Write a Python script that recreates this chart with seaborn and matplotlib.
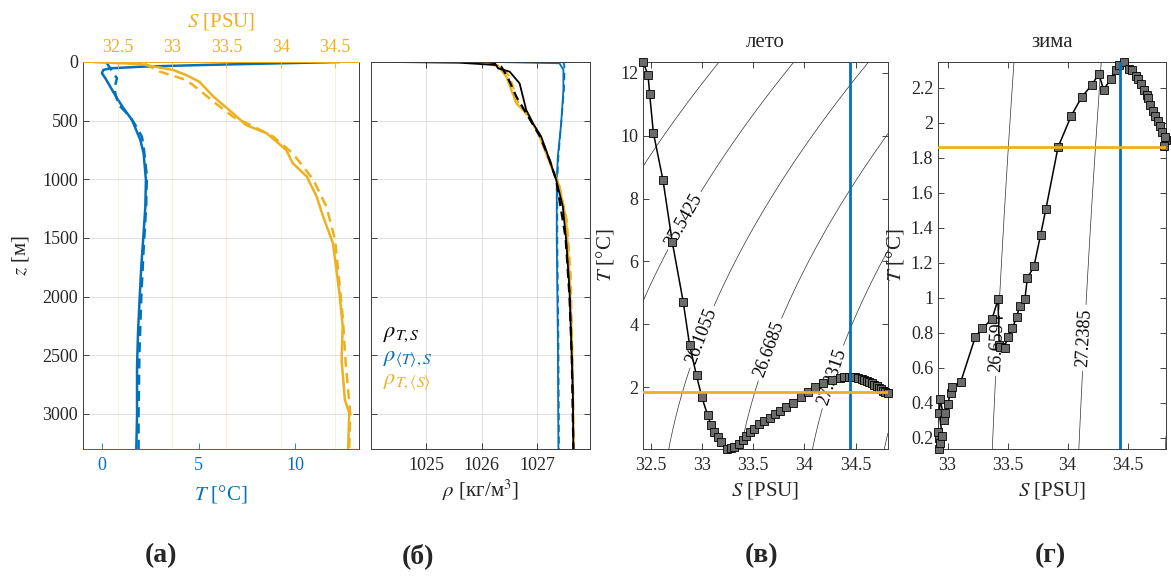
import numpy as np
import matplotlib
matplotlib.use('Agg')
import matplotlib.pyplot as plt
import seaborn as sns
from matplotlib.ticker import FuncFormatter

# ---------------- data ----------------
# (a) temperature profiles
z_T_sum = [0, 26, 40, 54, 68, 96, 139, 210, 309, 395, 494, 665, 778, 1005, 1233, 1457, 1744, 2028, 2310, 2596, 3022, 3300]
T_sum_prof = [12.3, 5.1, 2.0, 0.4, 0.05, -0.02, 0.16, 0.41, 0.76, 1.1, 1.54, 1.97, 2.14, 2.26, 2.23, 2.14, 2.02, 1.93, 1.85, 1.80, 1.80, 1.76]
z_T_win = [0, 11, 96, 139, 196, 267, 366, 423, 494, 537, 636, 721, 977, 1233, 1600, 2000, 2500, 3000, 3300]
T_win_prof = [0.2, 0.24, 0.58, 0.76, 0.67, 0.67, 0.85, 1.19, 1.54, 1.71, 2.05, 2.14, 2.31, 2.27, 2.14, 2.02, 1.92, 1.88, 1.88]
# (a) salinity profiles
z_S_sum = [0, 17, 26, 68, 111, 168, 295, 437, 537, 608, 750, 863, 977, 1148, 1318, 1545, 1971, 2255, 2539, 2880, 2993, 3300]
S_sum_prof = [32.27, 32.70, 32.76, 33.01, 33.13, 33.25, 33.38, 33.56, 33.68, 33.87, 34.05, 34.11, 34.24, 34.33, 34.39, 34.48, 34.54, 34.57, 34.56, 34.59, 34.63, 34.62]
z_S_win = [0, 15, 40, 83, 153, 238, 338, 466, 551, 636, 778, 1005, 1233, 1517, 2170, 2596, 3000, 3300]
S_win_prof = [32.3, 32.75, 32.80, 32.89, 33.13, 33.25, 33.38, 33.56, 33.75, 33.93, 34.11, 34.30, 34.42, 34.50, 34.57, 34.60, 34.64, 34.63]

# (b) density profiles
z_rho = [0, 6, 26, 54, 82, 182, 295, 409, 522, 636, 835, 1005, 1233, 1517, 1943, 2369, 2795, 3300]
rho_TS = [1024.39, 1025.59, 1026.26, 1026.29, 1026.50, 1026.68, 1026.74, 1026.80, 1026.92, 1027.07, 1027.22, 1027.34, 1027.46, 1027.52, 1027.58, 1027.61, 1027.64, 1027.65]
z_rho_d = [0, 10, 40, 125, 295, 437, 636, 835, 1005, 1500, 2000, 2500, 3300]
rho_TS_d = [1026.1, 1026.25, 1026.35, 1026.46, 1026.62, 1026.80, 1027.05, 1027.22, 1027.34, 1027.51, 1027.58, 1027.62, 1027.65]
z_rho_y = [0, 10, 40, 125, 352, 466, 636, 892, 1062, 1346, 1800, 2652, 3300]
rho_T_mS = [1025.77, 1026.1, 1026.3, 1026.44, 1026.62, 1026.86, 1027.04, 1027.25, 1027.40, 1027.52, 1027.58, 1027.64, 1027.65]
rho_T_mS_d = [1025.9, 1026.15, 1026.35, 1026.5, 1026.66, 1026.84, 1027.06, 1027.27, 1027.40, 1027.53, 1027.60, 1027.64, 1027.66]
z_rho_b = [0, 11, 68, 238, 522, 806, 1005, 1517, 2369, 3300]
rho_mT_S = [1026.26, 1027.40, 1027.47, 1027.47, 1027.43, 1027.37, 1027.35, 1027.35, 1027.37, 1027.38]
rho_mT_S_d = [1027.45, 1027.48, 1027.49, 1027.48, 1027.43, 1027.38, 1027.36, 1027.36, 1027.38, 1027.39]

# (в) summer T-S
S_sum = [32.425, 32.474, 32.49, 32.526, 32.62, 32.71, 32.817, 32.88, 32.947, 33.0, 33.055, 33.088, 33.12,
         33.153, 33.186, 33.24, 33.28, 33.317, 33.36, 33.40, 33.43, 33.464, 33.51, 33.56, 33.61, 33.66, 33.71,
         33.76, 33.82, 33.89, 33.97, 34.035, 34.10, 34.18, 34.265, 34.35, 34.39, 34.43, 34.46, 34.49, 34.52,
         34.56, 34.58, 34.61, 34.63, 34.66, 34.68, 34.71, 34.73, 34.75, 34.77, 34.79, 34.815]
T_sum = [12.35, 11.94, 11.33, 10.10, 8.59, 6.63, 4.72, 3.33, 2.37, 1.67, 1.11, 0.79, 0.58,
         0.42, 0.26, 0.03, 0.05, 0.10, 0.20, 0.31, 0.45, 0.58, 0.68, 0.82, 0.93, 1.03, 1.14,
         1.25, 1.37, 1.48, 1.69, 1.85, 1.99, 2.12, 2.22, 2.30, 2.32, 2.33, 2.32, 2.31, 2.29,
         2.25, 2.23, 2.19, 2.16, 2.12, 2.08, 2.03, 1.98, 1.93, 1.89, 1.85, 1.82]
# (г) winter T-S
S_win = [32.93, 32.92, 32.93, 32.94, 32.956, 32.93, 32.94, 32.97, 32.98, 33.0, 33.025, 33.04, 33.11, 33.23,
         33.29, 33.37, 33.42, 33.43, 33.44, 33.475, 33.50, 33.54, 33.575, 33.60, 33.644, 33.664, 33.72,
         33.775, 33.82, 33.92, 34.03, 34.12, 34.20, 34.26, 34.30, 34.36, 34.40, 34.43, 34.47, 34.51, 34.54,
         34.57, 34.59, 34.61, 34.64, 34.66, 34.67, 34.69, 34.71, 34.725, 34.75, 34.77, 34.79, 34.82, 34.81, 34.80]
T_win = [0.20, 0.23, 0.135, 0.17, 0.207, 0.34, 0.42, 0.30, 0.34, 0.39, 0.458, 0.487, 0.52, 0.774,
         0.825, 0.878, 0.99, 0.73, 0.72, 0.715, 0.777, 0.825, 0.89, 0.95, 0.99, 1.11, 1.18,
         1.36, 1.51, 1.86, 2.04, 2.15, 2.215, 2.28, 2.19, 2.25, 2.30, 2.33, 2.348, 2.31, 2.30,
         2.27, 2.25, 2.22, 2.19, 2.16, 2.14, 2.10, 2.07, 2.04, 2.01, 1.98, 1.945, 1.90, 1.917, 1.866]

# reference (mean) lines in T-S panels
S_mean = [34.44, 34.44]
T_mean = [1.86, 1.86]

# isopycnal levels: unlabeled and labeled
lev_sum = [24.9795, 27.7945]
lab_sum = [25.5425, 26.1055, 26.6685, 27.2315]
lab_pos_sum = [(32.83, 7.3), (33.0, 3.6), (33.66, 3.2), (34.30, 2.3)]
lev_win = [26.0803, 27.8176]
lab_win = [26.6594, 27.2385]
lab_pos_win = [(33.456, 0.74), (34.16, 0.77)]

# ticks
z_ticks = [0, 500, 1000, 1500, 2000, 2500, 3000]
T_ticks_a = [0, 5, 10]
S_ticks_a = [32.5, 33, 33.5, 34, 34.5]
rho_ticks = [1025, 1026, 1027]
S_ticks_ts = [32.5, 33, 33.5, 34, 34.5]
T_ticks_sum = [2, 4, 6, 8, 10, 12]
T_ticks_win = [0.2, 0.4, 0.6, 0.8, 1.0, 1.2, 1.4, 1.6, 1.8, 2.0, 2.2]

# ---------------- style ----------------
sns.set_style('ticks')
plt.rcParams['font.family'] = ['Liberation Serif', 'DejaVu Serif']
plt.rcParams['mathtext.fontset'] = 'stix'
BLUE = '#0072BD'
YEL = '#EDB120'
SPINE = '#3c3c3c'
TICK_FS = 13
LAB_FS = 15
gfmt = FuncFormatter(lambda v, p: f'{v:g}')


def sigma_eos(S, T):
    """UNESCO EOS-80 one-atmosphere density anomaly (S treated as absolute salinity)."""
    S = S * 35.0 / 35.16504
    rw = (999.842594 + 6.793952e-2 * T - 9.095290e-3 * T**2 + 1.001685e-4 * T**3
          - 1.120083e-6 * T**4 + 6.536332e-9 * T**5)
    A = 8.24493e-1 - 4.0899e-3 * T + 7.6438e-5 * T**2 - 8.2467e-7 * T**3 + 5.3875e-9 * T**4
    B = -5.72466e-3 + 1.0227e-4 * T - 1.6546e-6 * T**2
    C = 4.8314e-4
    return rw + A * S + B * S**1.5 + C * S**2 - 1000.0


def box(ax):
    for sp in ax.spines.values():
        sp.set_linewidth(0.7)
        sp.set_color(SPINE)
        sp.set_visible(True)
    ax.tick_params(direction='in', length=4, width=0.6, labelsize=TICK_FS,
                   top=True, right=True, colors='#262626')
    ax.tick_params(axis='x', pad=6)


fig = plt.figure(figsize=(11.71, 5.83), dpi=100)
W, H = 1171, 583


def rect(l, r, t, b):
    return [l / W, 1 - b / H, (r - l) / W, (b - t) / H]


# ---------------- (a) ----------------
axa = fig.add_axes(rect(83, 359, 62, 449))
axs = axa.twiny()
sns.lineplot(x=T_sum_prof, y=z_T_sum, sort=False, estimator=None, ax=axa, color=BLUE, lw=1.8)
sns.lineplot(x=T_win_prof, y=z_T_win, sort=False, estimator=None, ax=axa, color=BLUE, lw=1.8,
             linestyle=(0, (4, 2.5)))
sns.lineplot(x=S_sum_prof, y=z_S_sum, sort=False, estimator=None, ax=axs, color=YEL, lw=1.8)
sns.lineplot(x=S_win_prof, y=z_S_win, sort=False, estimator=None, ax=axs, color=YEL, lw=1.8,
             linestyle=(0, (4, 2.5)))
axa.set_xlim(-1.0, 13.3)
axs.set_xlim(32.18, 34.72)
axa.set_ylim(3300, 0)
axa.set_yticks(z_ticks)
axa.set_xticks(T_ticks_a)
axs.set_xticks(S_ticks_a)
axs.xaxis.set_major_formatter(gfmt)
axa.yaxis.grid(True, color='#dedede', lw=0.7)
axs.xaxis.grid(True, color=YEL, alpha=0.18, lw=0.7)
axa.set_axisbelow(True)
for sp in axa.spines.values():
    sp.set_linewidth(0.7)
    sp.set_color(SPINE)
axa.spines['bottom'].set_color(BLUE)
for sp in ['left', 'right', 'bottom']:
    axs.spines[sp].set_visible(False)
axs.spines['top'].set_color(YEL)
axs.spines['top'].set_linewidth(0.7)
axa.tick_params(axis='y', direction='in', length=4, width=0.6, left=True, right=True,
                labelsize=TICK_FS, colors='#262626')
axa.tick_params(axis='x', direction='in', length=4, width=0.6, top=False, bottom=True,
                labelsize=TICK_FS, colors=BLUE, pad=6)
axs.tick_params(axis='x', direction='in', length=4, width=0.6, top=True, bottom=False,
                labelsize=TICK_FS, colors=YEL, pad=4)
axa.set_xlabel(r'$T$ [°C]', color=BLUE, fontsize=LAB_FS, labelpad=6)
axa.set_ylabel(r'$z$ [м]', fontsize=LAB_FS, color='#262626', labelpad=8)
axs.set_xlabel(r'$S$ [PSU]', color=YEL, fontsize=LAB_FS, labelpad=9)

# ---------------- (б) ----------------
axb = fig.add_axes(rect(371, 590, 62, 449))
sns.lineplot(x=rho_mT_S, y=z_rho_b, sort=False, estimator=None, ax=axb, color=BLUE, lw=1.3)
sns.lineplot(x=rho_mT_S_d, y=z_rho_b, sort=False, estimator=None, ax=axb, color=BLUE, lw=1.3,
             linestyle=(0, (4, 2.5)))
sns.lineplot(x=rho_T_mS, y=z_rho_y, sort=False, estimator=None, ax=axb, color=YEL, lw=1.6)
sns.lineplot(x=rho_T_mS_d, y=z_rho_y, sort=False, estimator=None, ax=axb, color=YEL, lw=1.6,
             linestyle=(0, (4, 2.5)))
sns.lineplot(x=rho_TS, y=z_rho, sort=False, estimator=None, ax=axb, color='k', lw=1.3)
sns.lineplot(x=rho_TS_d, y=z_rho_d, sort=False, estimator=None, ax=axb, color='k', lw=1.6,
             linestyle=(0, (4, 2.5)))
axb.set_xlim(1024.0, 1027.95)
axb.set_ylim(3300, 0)
axb.set_yticks(z_ticks)
axb.set_xticks(rho_ticks)
axb.set_yticklabels([])
axb.grid(True, color='#dedede', lw=0.7)
axb.set_axisbelow(True)
box(axb)
axb.set_xlabel(r'$\rho$ [кг/м$^3$]', fontsize=LAB_FS, labelpad=2)
axb.set_ylabel('')
leg_kw = dict(transform=axb.transAxes, fontsize=16, ha='left', va='center')
axb.text(0.055, 0.295, r'$\rho_{T,S}$', color='k', **leg_kw)
axb.text(0.055, 0.232, r'$\rho_{\langle T\rangle,S}$', color=BLUE, **leg_kw)
axb.text(0.055, 0.172, r'$\rho_{T,\langle S\rangle}$', color=YEL, **leg_kw)


# ---------------- T-S panels ----------------
def ts_panel(ax, S, T, levels, lab_levels, lab_pos, yticks, xticks, title):
    xl = (min(S), max(S))
    yl = (min(T), max(T))
    Sg, Tg = np.meshgrid(np.linspace(xl[0], xl[1], 300), np.linspace(yl[0], yl[1], 300))
    sig = sigma_eos(Sg, Tg)
    ax.contour(Sg, Tg, sig, levels=levels, colors='#303030', linewidths=0.5, zorder=1)
    cs = ax.contour(Sg, Tg, sig, levels=lab_levels, colors='#303030', linewidths=0.5, zorder=1)
    fmt = {lv: f'{lv:g}' for lv in cs.levels}
    ax.clabel(cs, fmt=fmt, manual=lab_pos, inline=True,
              inline_spacing=4, fontsize=13, colors='k')
    sns.lineplot(x=S, y=T, sort=False, estimator=None, ax=ax, color='k', lw=1.1,
                 marker='s', markersize=5.5, markerfacecolor='#6b6b6b',
                 markeredgecolor='k', markeredgewidth=0.6, zorder=5, clip_on=False)
    sns.lineplot(x=S_mean, y=[yl[0], yl[1]], ax=ax, color=BLUE, lw=2.0, zorder=6,
                 estimator=None, sort=False)
    sns.lineplot(x=[xl[0], xl[1]], y=T_mean, ax=ax, color=YEL, lw=2.0, zorder=6,
                 estimator=None, sort=False)
    ax.set_xlim(*xl)
    ax.set_ylim(*yl)
    ax.set_xticks(xticks)
    ax.set_yticks(yticks)
    ax.xaxis.set_major_formatter(gfmt)
    ax.yaxis.set_major_formatter(gfmt)
    box(ax)
    ax.set_xlabel(r'$S$ [PSU]', fontsize=LAB_FS, labelpad=4)
    ax.set_ylabel(r'$T$ [°C]', fontsize=LAB_FS, labelpad=3)
    ax.set_title(title, fontsize=15, pad=11)


axc = fig.add_axes(rect(643, 888, 62, 449))
ts_panel(axc, S_sum, T_sum, lev_sum, lab_sum, lab_pos_sum, T_ticks_sum, S_ticks_ts, 'лето')
axd = fig.add_axes(rect(938, 1166, 62, 449))
ts_panel(axd, S_win, T_win, lev_win, lab_win, lab_pos_win, T_ticks_win, S_ticks_ts[1:], 'зима')

# ---------------- panel letters ----------------
for lbl, xp in zip(['(а)', '(б)', '(в)', '(г)'], [161, 418, 762, 1050]):
    fig.text(xp / W, 1 - 556 / H, lbl, fontsize=20, fontweight='bold', ha='center', va='center')

fig.savefig('out.png', dpi=100)
